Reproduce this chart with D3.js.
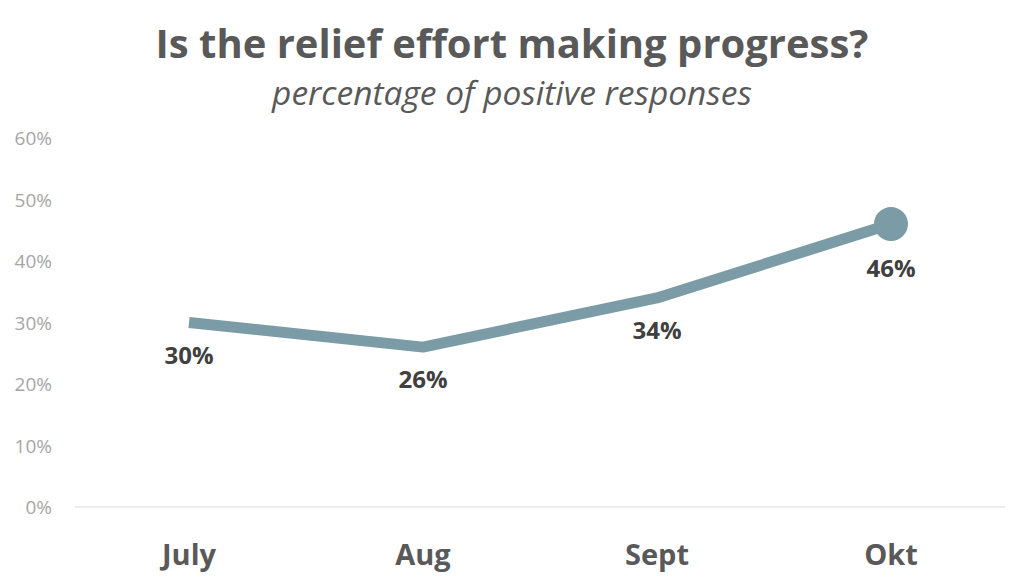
<!DOCTYPE html>
<html><head><meta charset="utf-8">
<script src="https://cdn.jsdelivr.net/npm/d3@7"></script>
<style>body{margin:0;background:#fff}svg{display:block}</style>
</head><body>
<svg id="c" width="1024" height="584"></svg>
<script>
const categories = ["July", "Aug", "Sept", "Okt"];
const values = [30, 26, 34, 46];
const yTicks = [0, 10, 20, 30, 40, 50, 60];

const svg = d3.select("#c");
const font = "'Open Sans', 'Noto Sans', sans-serif";
const x = d3.scaleBand().domain(categories).range([72, 1008]);
const y = d3.scaleLinear().domain([0, 60]).range([507, 138]);

function fitText(sel, target) {
  const w = sel.node().getComputedTextLength();
  const fs = parseFloat(sel.attr("font-size"));
  sel.attr("font-size", fs * target / w);
}

const t = svg.append("text").attr("x", 512).attr("y", 58).attr("text-anchor", "middle")
  .attr("font-family", font).attr("font-weight", "bold").attr("font-size", 42)
  .attr("fill", "#595959").text("Is the relief effort making progress?");
fitText(t, 713);
const st = svg.append("text").attr("x", 512).attr("y", 105).attr("text-anchor", "middle")
  .attr("font-family", font).attr("font-style", "italic").attr("font-size", 26)
  .attr("fill", "#595959").text("percentage of positive responses");
fitText(st, 480);

// y axis labels
const yAxis = d3.axisLeft(y).tickValues(yTicks).tickFormat(d => d + "%").tickSize(0).tickPadding(0);
const ya = svg.append("g").attr("transform", "translate(52,0)").call(yAxis);
ya.select(".domain").remove();
ya.selectAll("text").attr("font-family", font).attr("font-size", 19).attr("fill", "#a6a6a6").attr("dy", "0.35em");

// baseline + category labels
const xAxis = d3.axisBottom(x).tickSize(0).tickPadding(0);
const xa = svg.append("g").attr("transform", `translate(0,${y(0)})`).call(xAxis);
xa.select(".domain").attr("stroke", "#d9d9d9").attr("stroke-width", 1.2).attr("d", "M75,0H1005");
xa.selectAll("text").attr("font-family", font).attr("font-weight", "bold").attr("font-size", 29)
  .attr("fill", "#595959").attr("dy", 0).attr("y", 58);

const data = categories.map((c, i) => ({c, v: values[i], last: i === categories.length - 1}));
const cx = d => x(d.c) + x.bandwidth() / 2;
const line = d3.line().x(cx).y(d => y(d.v));
svg.append("path").datum(data).attr("d", line).attr("fill", "none")
  .attr("stroke", "#7b9ba7").attr("stroke-width", 11).attr("stroke-linejoin", "round");
svg.append("circle").attr("cx", cx(data[3])).attr("cy", y(data[3].v)).attr("r", 17).attr("fill", "#7b9ba7");

svg.selectAll(".lbl").data(data).enter().append("text").attr("class", "lbl")
  .attr("x", d => cx(d)).attr("y", d => y(d.v) + (d.last ? 53 : 41)).attr("text-anchor", "middle")
  .attr("font-family", font).attr("font-weight", "bold").attr("font-size", 24)
  .attr("fill", "#404040").text(d => d.v + "%");
</script>
</body></html>
